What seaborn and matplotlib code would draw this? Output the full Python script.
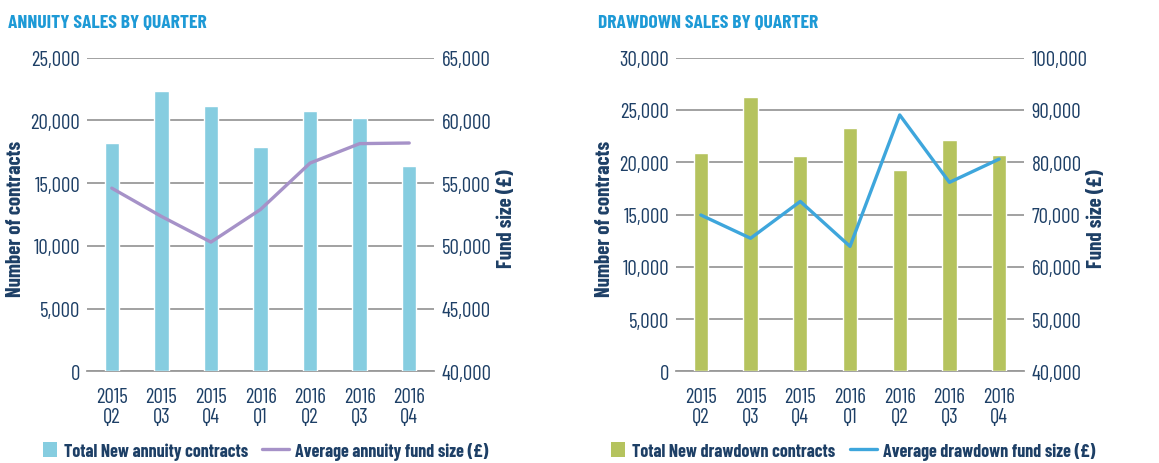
import numpy as np
import pandas as pd
import matplotlib.pyplot as plt
import seaborn as sns
from matplotlib.patches import Patch
from matplotlib.lines import Line2D
from matplotlib.ticker import FuncFormatter, MultipleLocator

# Data
quarters = ['2015\nQ2', '2015\nQ3', '2015\nQ4', '2016\nQ1', '2016\nQ2', '2016\nQ3', '2016\nQ4']
annuity_contracts = [18200, 22350, 21150, 17900, 20750, 20200, 16350]
annuity_fund = [54600, 52350, 50300, 52900, 56600, 58150, 58200]
drawdown_contracts = [20900, 26250, 20600, 23300, 19250, 22100, 20700]
drawdown_fund = [69900, 65450, 72500, 63900, 89050, 76150, 80600]

FONT = ['Barlow Condensed', 'Roboto Condensed', 'DejaVu Sans']
sns.set_style('white')
plt.rcParams['font.family'] = FONT

NAVY = '#1d3f66'
TITLE_BLUE = '#1e9ad6'
GRID = '#9a9a9a'
W, H = 1159, 464

fmt = FuncFormatter(lambda v, p: f'{int(v):,}')


def draw_panel(ax, bars, line, bar_color, line_color, ylim, ylim2, step, step2):
    df = pd.DataFrame({'quarter': quarters, 'contracts': bars})
    sns.barplot(data=df, x='quarter', y='contracts', color=bar_color,
                width=0.29, saturation=1, ax=ax, zorder=3)
    ax.set_ylim(*ylim)
    ax.set_xlim(-0.5, len(quarters) - 0.5)
    ax.yaxis.set_major_locator(MultipleLocator(step))
    ax.yaxis.set_major_formatter(fmt)
    ax.grid(axis='y', color=GRID, linewidth=1.3, zorder=0)
    ax.set_axisbelow(True)
    for s in ['top', 'left', 'right']:
        ax.spines[s].set_visible(False)
    ax.spines['bottom'].set_color(GRID)
    ax.spines['bottom'].set_linewidth(1.3)
    ax.set_xlabel('')
    ax.set_ylabel('Number of contracts', fontsize=15, color=NAVY, fontweight='bold')
    ax.yaxis.set_label_coords(-0.179, 0.49)
    ax.tick_params(axis='x', which='major', length=0, labelsize=15,
                   labelcolor=NAVY, pad=11)
    for t in ax.get_xticklabels():
        t.set_linespacing(1.12)
    ax.set_xticks(np.arange(-0.5, len(quarters)), minor=True)
    ax.tick_params(axis='x', which='minor', length=6, color=GRID, width=1.3)
    ax.tick_params(axis='y', length=0, labelsize=15, labelcolor=NAVY, pad=5)

    ax2 = ax.twinx()
    sns.lineplot(x=np.arange(len(quarters)), y=line, color=line_color,
                 linewidth=2.4, ax=ax2, zorder=4)
    ax2.set_ylim(*ylim2)
    ax2.yaxis.set_major_locator(MultipleLocator(step2))
    ax2.yaxis.set_major_formatter(fmt)
    for s in ax2.spines.values():
        s.set_visible(False)
    ax2.tick_params(axis='y', length=0, labelsize=15, labelcolor=NAVY, pad=5.5)
    ax2.set_ylabel('Fund size (£)', fontsize=15, color=NAVY, fontweight='bold')
    ax2.yaxis.set_label_coords(1.181, 0.49)


def add_legend(fig, x_px, handle, label, hlen):
    fig.legend([handle], [label], loc='center left',
               bbox_to_anchor=(x_px / W, 1 - 452 / H), frameon=False,
               borderaxespad=0, borderpad=0, handlelength=hlen,
               handleheight=0.85, handletextpad=0.35, labelcolor=NAVY,
               prop={'family': FONT, 'weight': 'bold', 'size': 13})


fig = plt.figure(figsize=(W / 100, H / 100), dpi=100)
ax_a = fig.add_axes([87 / W, 1 - 372.3 / H, 347 / W, 313.6 / H])
ax_d = fig.add_axes([676 / W, 1 - 372.3 / H, 348 / W, 313.6 / H])

draw_panel(ax_a, annuity_contracts, annuity_fund, '#86cde0', '#a692c8',
           (0, 25000), (40000, 65000), 5000, 5000)
draw_panel(ax_d, drawdown_contracts, drawdown_fund, '#b5c35e', '#3ea6dc',
           (0, 30000), (40000, 100000), 5000, 10000)

fig.text(8 / W, 1 - 28 / H, 'ANNUITY SALES BY QUARTER', fontsize=14,
         fontweight='bold', color=TITLE_BLUE, va='baseline')
fig.text(598 / W, 1 - 28 / H, 'DRAWDOWN SALES BY QUARTER', fontsize=14,
         fontweight='bold', color=TITLE_BLUE, va='baseline')

add_legend(fig, 43, Patch(facecolor='#86cde0', edgecolor='none'),
           'Total New annuity contracts', 0.8)
add_legend(fig, 262, Line2D([0], [0], color='#a692c8', linewidth=2.4),
           'Average annuity fund size (£)', 1.5)
add_legend(fig, 611, Patch(facecolor='#b5c35e', edgecolor='none'),
           'Total New drawdown contracts', 0.8)
add_legend(fig, 850, Line2D([0], [0], color='#3ea6dc', linewidth=2.4),
           'Average drawdown fund size (£)', 1.5)

fig.savefig('out.png', dpi=100)
